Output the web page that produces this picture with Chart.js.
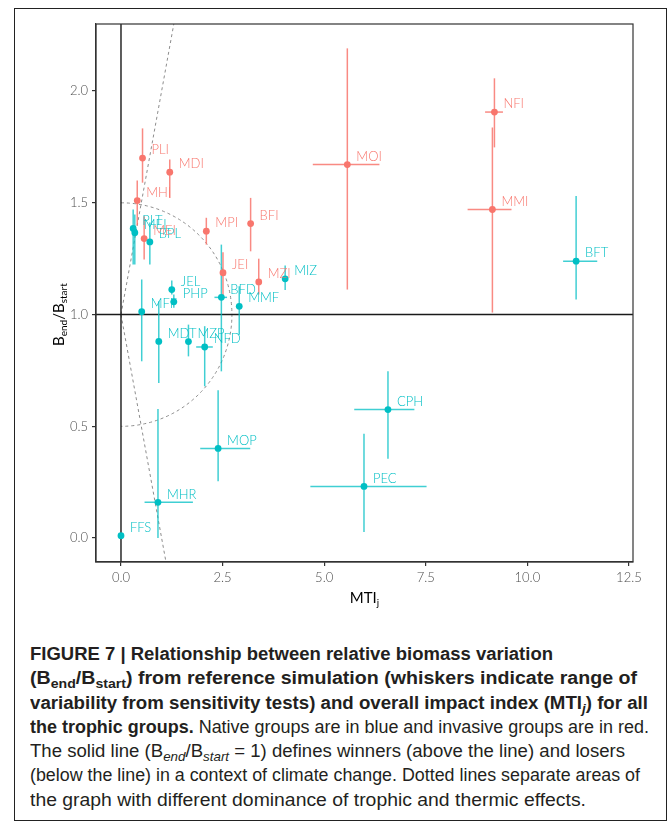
<!DOCTYPE html>
<html>
<head>
<meta charset="utf-8">
<title>Figure 7</title>
<script src="https://cdn.jsdelivr.net/npm/chart.js@4.4.0/dist/chart.umd.min.js"></script>
<style>
  html, body { margin: 0; padding: 0; background: #fff; }
  body { width: 669px; height: 825px; position: relative; overflow: hidden; }
  #frame { position: absolute; left: 14px; top: 8px; width: 653px; height: 813px; border: 1.5px solid #222; box-sizing: border-box; }
  #plot { position: absolute; left: 0; top: 0; width: 669px; height: 620px; }
  #caption { position: absolute; left: 30px; top: 642px; font-family: "Liberation Sans", Arial, sans-serif; font-size: 17.5px; line-height: 24.3px; color: #231f20; white-space: nowrap; }
  #caption .line { display: block; height: 24.3px; }
  #caption .line span.fit { display: inline-block; transform-origin: 0 50%; }
  #caption sub { font-size: 0.72em; vertical-align: -0.3em; line-height: 0; }
  #caption b { font-weight: bold; }
</style>
</head>
<body>
<div id="frame"></div>
<div id="plot"><canvas id="my-chart"></canvas></div>
<div id="caption">
  <div class="line" data-w="523"><span class="fit"><b>FIGURE 7 | Relationship between relative biomass variation</b></span></div>
  <div class="line" data-w="607"><span class="fit"><b>(B<sub>end</sub>/B<sub>start</sub>) from reference simulation (whiskers indicate range of</b></span></div>
  <div class="line" data-w="618"><span class="fit"><b>variability from sensitivity tests) and overall impact index (MTI<sub><i>j</i></sub>) for all</b></span></div>
  <div class="line" data-w="619"><span class="fit"><b>the trophic groups.</b> Native groups are in blue and invasive groups are in red.</span></div>
  <div class="line" data-w="595"><span class="fit">The solid line (B<sub><i>end</i></sub>/B<sub><i>start</i></sub> = 1) defines winners (above the line) and losers</span></div>
  <div class="line" data-w="610"><span class="fit">(below the line) in a context of climate change. Dotted lines separate areas of</span></div>
  <div class="line" data-w="556"><span class="fit">the graph with different dominance of trophic and thermic effects.</span></div>
</div>
<script>
'use strict';

// **** Data ****

let invasiveNames = ['NFI', 'MMI', 'MOI', 'PLI', 'MDI', 'MHI', 'MEI', 'MPI', 'BFI', 'JEI', 'MZI'];
let invasiveMTI = [9.19, 9.14, 5.57, 0.53, 1.20, 0.40, 0.57, 2.10, 3.19, 2.51, 3.39];
let invasiveRatio = [1.906, 1.470, 1.671, 1.700, 1.637, 1.510, 1.340, 1.373, 1.407, 1.187, 1.146];
let invasiveRatioLow = [1.748, 1.009, 1.112, 1.590, 1.522, 1.400, 1.246, 1.313, 1.283, 1.082, 1.090];
let invasiveRatioHigh = [2.057, 1.837, 2.191, 1.833, 1.694, 1.600, 1.440, 1.433, 1.522, 1.279, 1.250];
let invasiveMTILow = [8.96, 8.53, 4.72, null, null, null, null, null, null, null, null];
let invasiveMTIHigh = [9.40, 9.61, 6.36, null, null, null, null, null, null, null, null];

let nativeNames = ['BFT', 'CPH', 'PEC', 'MOP', 'MHR', 'FFS', 'PLT', 'MEL', 'BPL', 'JEL', 'PHP', 'MFF', 'BFD', 'MMF', 'MIZ', 'MDT', 'MZP', 'NFD'];
let nativeMTI = [11.20, 6.57, 5.98, 2.39, 0.91, 0.00, 0.30, 0.34, 0.71, 1.25, 1.30, 0.51, 2.47, 2.91, 4.04, 0.93, 1.66, 2.06];
let nativeRatio = [1.239, 0.575, 0.231, 0.401, 0.160, 0.011, 1.385, 1.366, 1.325, 1.112, 1.057, 1.013, 1.077, 1.037, 1.160, 0.880, 0.879, 0.855];
let nativeRatioLow = [1.067, 0.355, 0.027, 0.254, 0.000, null, 1.224, 1.224, 1.224, 1.090, 1.030, 0.791, 0.746, 0.910, 1.110, 0.694, 0.813, 0.679];
let nativeRatioHigh = [1.530, 0.746, 0.467, 0.661, 0.578, null, 1.470, 1.448, 1.412, 1.152, 1.090, 1.157, 1.313, 1.127, 1.220, 1.060, 0.955, 0.948];
let nativeMTILow = [10.88, 5.74, 4.66, 1.95, 0.58, null, null, null, null, null, 1.22, null, 2.30, null, null, null, null, 1.85];
let nativeMTIHigh = [11.72, 7.22, 7.52, 3.18, 1.77, null, null, null, null, null, 1.38, null, 2.61, null, null, null, null, 2.26];

let xTicks = [0, 2.5, 5, 7.5, 10, 12.5];
let yTicks = [0, 0.5, 1, 1.5, 2];

// guide shapes: winners/losers line, origin line, trophic/thermic separators
let ratioLine = 1;
let mtiLine = 0;
let guideSlope = 1;
let ellipseRadiusX = 2.73;
let ellipseRadiusY = 0.5;

// **** Colours ****

let invasiveColor = '#F8766D';
let nativeColor = '#00BFC4';
let invasiveWhisker = 'rgba(248, 118, 109, 0.85)';
let nativeWhisker = 'rgba(0, 191, 196, 0.75)';
let plotFont = 'Lato, "Open Sans", sans-serif';

// **** Helper functions ****

function toPoints(xs, ys) {
  let pts = [];
  for (let i = 0; i < xs.length; i++) {
    pts.push({ x: xs[i], y: ys[i] });
  }
  return pts;
}

function drawWhiskers(ctx, xScale, yScale, xs, ys, yLow, yHigh, xLow, xHigh, color) {
  ctx.strokeStyle = color;
  ctx.lineWidth = 1.5;
  for (let i = 0; i < xs.length; i++) {
    let px = xScale.getPixelForValue(xs[i]);
    let py = yScale.getPixelForValue(ys[i]);
    if (yLow[i] !== null) {
      ctx.beginPath();
      ctx.moveTo(px, yScale.getPixelForValue(yLow[i]));
      ctx.lineTo(px, yScale.getPixelForValue(yHigh[i]));
      ctx.stroke();
    }
    if (xLow[i] !== null) {
      ctx.beginPath();
      ctx.moveTo(xScale.getPixelForValue(xLow[i]), py);
      ctx.lineTo(xScale.getPixelForValue(xHigh[i]), py);
      ctx.stroke();
    }
  }
}

function drawLabels(ctx, xScale, yScale, names, xs, ys, color) {
  ctx.fillStyle = color;
  ctx.font = '300 13px ' + plotFont;
  ctx.textAlign = 'left';
  ctx.textBaseline = 'middle';
  for (let i = 0; i < names.length; i++) {
    let px = xScale.getPixelForValue(xs[i]);
    let py = yScale.getPixelForValue(ys[i]);
    ctx.fillText(names[i], px + 9, py - 8);
  }
}

// text with subscripts, starting at x
function subText(ctx, parts, x, y, size) {
  let pos = x;
  for (let i = 0; i < parts.length; i++) {
    let p = parts[i];
    ctx.font = (p.sub ? Math.round(size * 0.68) : size) + 'px ' + plotFont;
    ctx.fillText(p.t, pos, p.sub ? y + size * 0.3 : y);
    pos += ctx.measureText(p.t).width;
  }
  return pos - x;
}

function measureParts(ctx, parts, size) {
  let w = 0;
  for (let i = 0; i < parts.length; i++) {
    let p = parts[i];
    ctx.font = (p.sub ? Math.round(size * 0.68) : size) + 'px ' + plotFont;
    w += ctx.measureText(p.t).width;
  }
  return w;
}

// **** Plugin: guides, whiskers, labels ****

let guidePlugin = {
  id: 'guides',
  beforeDatasetsDraw(chart) {
    let ctx = chart.ctx;
    let area = chart.chartArea;
    let xS = chart.scales.x;
    let yS = chart.scales.y;

    ctx.save();
    ctx.beginPath();
    ctx.rect(area.left, area.top, area.right - area.left, area.bottom - area.top);
    ctx.clip();

    let cx = xS.getPixelForValue(mtiLine);
    let cy = yS.getPixelForValue(ratioLine);

    // dotted separators
    ctx.strokeStyle = '#8c8c8c';
    ctx.lineWidth = 1;
    ctx.setLineDash([3, 3]);
    ctx.beginPath();
    ctx.moveTo(cx, cy);
    ctx.lineTo(xS.getPixelForValue(3), yS.getPixelForValue(ratioLine + guideSlope * 3));
    ctx.moveTo(cx, cy);
    ctx.lineTo(xS.getPixelForValue(3), yS.getPixelForValue(ratioLine - guideSlope * 3));
    ctx.stroke();

    let rx = xS.getPixelForValue(ellipseRadiusX) - cx;
    let ry = cy - yS.getPixelForValue(ratioLine + ellipseRadiusY);
    ctx.beginPath();
    ctx.ellipse(cx, cy, rx, ry, 0, -Math.PI / 2, Math.PI / 2);
    ctx.stroke();
    ctx.setLineDash([]);

    // solid lines
    ctx.strokeStyle = '#1a1a1a';
    ctx.lineWidth = 1.4;
    ctx.beginPath();
    ctx.moveTo(area.left, cy);
    ctx.lineTo(area.right, cy);
    ctx.moveTo(cx, area.top);
    ctx.lineTo(cx, area.bottom);
    ctx.stroke();

    drawWhiskers(ctx, xS, yS, nativeMTI, nativeRatio, nativeRatioLow, nativeRatioHigh, nativeMTILow, nativeMTIHigh, nativeWhisker);
    drawWhiskers(ctx, xS, yS, invasiveMTI, invasiveRatio, invasiveRatioLow, invasiveRatioHigh, invasiveMTILow, invasiveMTIHigh, invasiveWhisker);
    ctx.restore();
  },
  afterDatasetsDraw(chart) {
    let ctx = chart.ctx;
    let area = chart.chartArea;
    let xS = chart.scales.x;
    let yS = chart.scales.y;
    ctx.save();
    drawLabels(ctx, xS, yS, nativeNames, nativeMTI, nativeRatio, nativeColor);
    drawLabels(ctx, xS, yS, invasiveNames, invasiveMTI, invasiveRatio, invasiveColor);

    // panel border
    ctx.strokeStyle = '#333';
    ctx.lineWidth = 1.2;
    ctx.strokeRect(area.left, area.top, area.right - area.left, area.bottom - area.top);

    // axis titles
    ctx.fillStyle = '#000';
    ctx.textBaseline = 'middle';
    ctx.textAlign = 'left';
    let xTitle = [{ t: 'MTI' }, { t: 'j', sub: true }];
    let wx = measureParts(ctx, xTitle, 15);
    subText(ctx, xTitle, (area.left + area.right) / 2 - wx / 2, 598, 15);

    let yTitle = [{ t: 'B' }, { t: 'end', sub: true }, { t: '/B' }, { t: 'start', sub: true }];
    let wy = measureParts(ctx, yTitle, 15);
    ctx.translate(59, yS.getPixelForValue(ratioLine));
    ctx.rotate(-Math.PI / 2);
    subText(ctx, yTitle, -wy / 2, 0, 15);
    ctx.restore();
  }
};

// **** Chart ****

let ctx = document.getElementById('my-chart').getContext('2d');

let myChartObj = {
  type: 'scatter',
  data: {
    datasets: [{
      label: 'Native',
      data: toPoints(nativeMTI, nativeRatio),
      backgroundColor: nativeColor,
      borderColor: nativeColor,
      pointRadius: 3.4,
      pointBorderWidth: 0
    },
    {
      label: 'Invasive',
      data: toPoints(invasiveMTI, invasiveRatio),
      backgroundColor: invasiveColor,
      borderColor: invasiveColor,
      pointRadius: 3.4,
      pointBorderWidth: 0
    }]
  },
  options: {
    responsive: true,
    maintainAspectRatio: false,
    animation: false,
    layout: { padding: { top: 24, right: 36, left: 0, bottom: 0 } },
    plugins: {
      legend: { display: false },
      tooltip: { enabled: false }
    },
    scales: {
      x: {
        type: 'linear',
        min: -0.615,
        max: 12.6,
        afterBuildTicks: function(scale) {
          scale.ticks = xTicks.map(function(v) { return { value: v }; });
        },
        afterFit: function(scale) { scale.height = 58; },
        ticks: {
          color: '#4d4d4d',
          font: { family: plotFont, size: 13, weight: '300' },
          padding: 4,
          maxRotation: 0,
          callback: function(v) { return v.toFixed(1); }
        },
        grid: { drawOnChartArea: false, drawTicks: true, tickLength: 4, color: '#333', lineWidth: 1.2 },
        border: { display: true, color: '#333', width: 1.2 }
      },
      y: {
        type: 'linear',
        min: -0.107,
        max: 2.30,
        afterBuildTicks: function(scale) {
          scale.ticks = yTicks.map(function(v) { return { value: v }; });
        },
        afterFit: function(scale) { scale.width = 96; },
        ticks: {
          color: '#4d4d4d',
          font: { family: plotFont, size: 13, weight: '300' },
          padding: 4,
          callback: function(v) { return v.toFixed(1); }
        },
        grid: { drawOnChartArea: false, drawTicks: true, tickLength: 4, color: '#333', lineWidth: 1.2 },
        border: { display: true, color: '#333', width: 1.2 }
      }
    }
  },
  plugins: [guidePlugin]
};

new Chart(ctx, myChartObj);

// **** Caption line widths ****

let captionLines = document.querySelectorAll('#caption .line');
for (let i = 0; i < captionLines.length; i++) {
  let target = parseFloat(captionLines[i].dataset.w);
  let span = captionLines[i].querySelector('.fit');
  let w = span.getBoundingClientRect().width;
  if (w > 0) {
    span.style.transform = 'scaleX(' + (target / w) + ')';
  }
}
</script>
</body>
</html>
